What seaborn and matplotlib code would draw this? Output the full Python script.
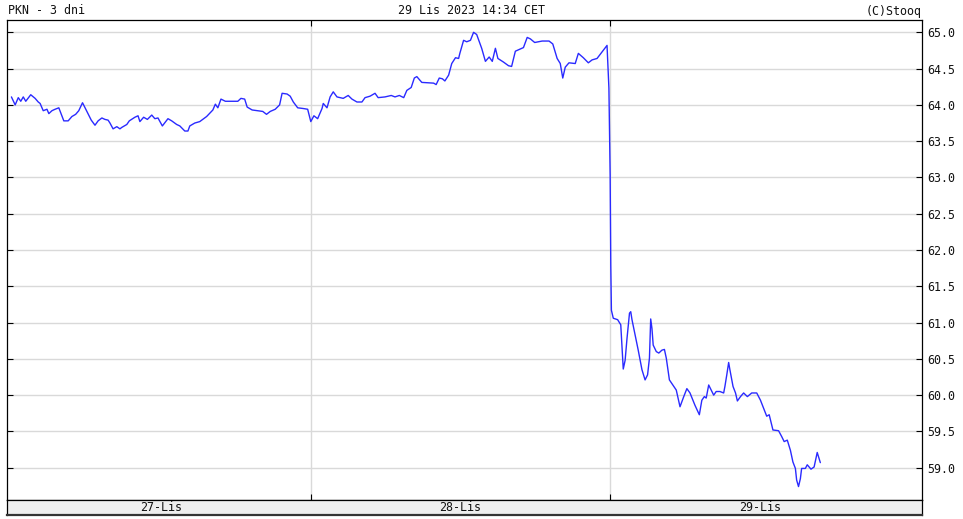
import numpy as np
import pandas as pd
import matplotlib
matplotlib.use("Agg")
import matplotlib.pyplot as plt
import seaborn as sns

# ---- data (minutes after 9:00 session open, price in PLN) ----
title_left = "PKN - 3 dni"
title_mid = "29 Lis 2023 14:34 CET"
title_right = "(C)Stooq"
day_labels = ["27-Lis", "28-Lis", "29-Lis"]
session_len = 480  # 9:00-17:00

day1_min = [0, 6, 11, 15, 19, 23, 31, 38, 43, 46,
            51, 57, 60, 65, 70, 76, 84, 91, 97, 103,
            108, 114, 121, 128, 134, 139, 145, 150, 155, 158,
            163, 169, 174, 177, 185, 189, 198, 203, 206, 212,
            218, 225, 230, 235, 242, 251, 257, 265, 270, 278,
            283, 286, 294, 302, 313, 323, 327, 331, 336, 343,
            353, 363, 368, 374, 378, 386, 394, 403, 409, 415,
            423, 430, 434, 442, 447, 452, 459, 468, 475]
day1_px = [64.11, 64.00, 64.10, 64.05, 64.11, 64.05, 64.14, 64.09, 64.04, 64.02,
           63.92, 63.94, 63.88, 63.92, 63.94, 63.96, 63.78, 63.78, 63.84, 63.87,
           63.92, 64.03, 63.91, 63.79, 63.72, 63.78, 63.82, 63.80, 63.79, 63.75,
           63.67, 63.70, 63.67, 63.69, 63.73, 63.78, 63.83, 63.85, 63.77, 63.83,
           63.80, 63.86, 63.81, 63.82, 63.71, 63.81, 63.78, 63.73, 63.71, 63.64,
           63.64, 63.71, 63.75, 63.77, 63.84, 63.93, 64.01, 63.96, 64.08, 64.05,
           64.05, 64.05, 64.09, 64.08, 63.97, 63.93, 63.92, 63.91, 63.87, 63.91,
           63.94, 64.00, 64.16, 64.15, 64.12, 64.04, 63.96, 63.95, 63.94]

day2_min = [0, 5, 11, 18, 20, 26, 31, 36, 42, 52,
            60, 66, 74, 82, 87, 95, 103, 108, 119, 129,
            135, 142, 149, 154, 161, 166, 170, 178, 197, 201,
            206, 211, 215, 221, 226, 232, 237, 239, 245, 250,
            256, 261, 266, 274, 280, 286, 291, 296, 300, 309,
            317, 322, 328, 336, 341, 347, 352, 359, 371, 376,
            382, 388, 395, 400, 404, 408, 414, 424, 429, 437,
            445, 451, 459, 467, 475, 478]
day2_px = [63.77, 63.85, 63.81, 63.95, 64.02, 63.96, 64.11, 64.18, 64.11, 64.09,
           64.13, 64.08, 64.04, 64.04, 64.10, 64.12, 64.16, 64.10, 64.11, 64.13,
           64.11, 64.13, 64.10, 64.20, 64.24, 64.37, 64.39, 64.31, 64.30, 64.28,
           64.37, 64.36, 64.33, 64.41, 64.57, 64.65, 64.64, 64.71, 64.89, 64.87,
           64.89, 65.00, 64.97, 64.78, 64.60, 64.66, 64.60, 64.78, 64.64, 64.59,
           64.54, 64.53, 64.74, 64.77, 64.79, 64.93, 64.91, 64.86, 64.88, 64.88,
           64.88, 64.84, 64.64, 64.57, 64.37, 64.52, 64.58, 64.57, 64.71, 64.65,
           64.58, 64.62, 64.64, 64.73, 64.82, 64.23]

day3_min = [0, 1, 2, 5, 12, 17, 20, 21, 24, 27,
            31, 33, 35, 40, 45, 51, 56, 60, 63, 65,
            67, 69, 74, 78, 83, 87, 90, 95, 102, 106,
            112, 118, 123, 128, 136, 143, 147, 151, 154, 158,
            162, 166, 170, 176, 182, 184, 187, 190, 192, 197,
            201, 204, 209, 214, 220, 227, 235, 241, 246, 251,
            255, 261, 270, 275, 279, 284, 289, 293, 297, 299,
            302, 305, 307, 313, 316, 322, 327, 332, 337]
day3_px = [63.03, 61.79, 61.17, 61.06, 61.04, 60.97, 60.51, 60.36, 60.48, 60.78,
           61.13, 61.15, 61.04, 60.83, 60.62, 60.35, 60.21, 60.28, 60.51, 61.05,
           60.92, 60.69, 60.60, 60.58, 60.62, 60.63, 60.51, 60.21, 60.12, 60.07,
           59.84, 59.98, 60.09, 60.03, 59.86, 59.73, 59.93, 59.98, 59.96, 60.14,
           60.07, 60.00, 60.05, 60.05, 60.03, 60.12, 60.28, 60.45, 60.35, 60.12,
           60.03, 59.92, 59.98, 60.03, 59.98, 60.03, 60.03, 59.93, 59.82, 59.71,
           59.73, 59.52, 59.51, 59.43, 59.36, 59.38, 59.24, 59.08, 58.99, 58.83,
           58.74, 58.85, 58.99, 58.99, 59.04, 58.98, 59.01, 59.21, 59.07]

y_ticks = [59.0, 59.5, 60.0, 60.5, 61.0, 61.5, 62.0, 62.5, 63.0, 63.5, 64.0, 64.5, 65.0]

# ---- build table ----
frames = []
for d, (mins, prices) in enumerate([(day1_min, day1_px), (day2_min, day2_px), (day3_min, day3_px)]):
    frames.append(pd.DataFrame({"t": np.array(mins) + d * session_len, "price": prices}))
df = pd.concat(frames, ignore_index=True)

# ---- figure ----
sns.set_style("white")
plt.rcParams["font.family"] = ["DejaVu Sans Mono"]
FS = 8.4
W, H = 963, 519
fig = plt.figure(figsize=(W / 100, H / 100), dpi=100)

x0, x1 = 7.3, 922
ytop, ybot, yband = 20, 500, 515
ax = fig.add_axes([x0 / W, 1 - ybot / H, (x1 - x0) / W, (ybot - ytop) / H])
sns.lineplot(data=df, x="t", y="price", ax=ax, color="#2a2aff", lw=1.0,
             estimator=None, sort=False, zorder=3)

xmin, xmax = -6.6, 1460
ax.set_xlim(xmin, xmax)
ax.set_ylim(58.555, 65.17)
ax.set_xlabel("")
ax.set_ylabel("")

ax.set_yticks(y_ticks)
ax.set_yticklabels([f"{v:.1f}" for v in y_ticks])
ax.yaxis.set_ticks_position("both")
ax.tick_params(axis="y", direction="in", length=4, width=0.8, color="black",
               left=True, right=True, labelleft=False, labelright=True,
               pad=4, labelsize=FS, labelcolor="#111111")
ax.set_xticks([session_len, 2 * session_len])
ax.tick_params(axis="x", direction="in", length=4, width=0.8, color="black",
               top=True, bottom=True, labelbottom=False)
ax.set_axisbelow(True)
ax.grid(True, color="#d9d9d9", lw=1.0)
for s in ax.spines.values():
    s.set_color("black")
    s.set_linewidth(0.9)

# date band
bax = fig.add_axes([x0 / W, 1 - yband / H, (x1 - x0) / W, (yband - ybot) / H])
bax.set_facecolor("#eeeeee")
bax.set_xlim(xmin, xmax)
bax.set_ylim(0, 1)
bax.set_yticks([])
bax.set_xticks([session_len, 2 * session_len])
bax.tick_params(axis="x", direction="out", length=4, width=0.8, labelbottom=False)
for s in bax.spines.values():
    s.set_color("black")
    s.set_linewidth(0.9)
bax.spines["bottom"].set_linewidth(1.6)
bax.spines["bottom"].set_color("#333333")
for i, lab in enumerate(day_labels):
    bax.text(i * session_len + session_len / 2, 0.5, lab, ha="center", va="center",
             fontsize=FS, color="#111111")

# header
fig.text(8 / W, 1 - 11 / H, title_left, ha="left", va="center", fontsize=FS, color="#111111")
fig.text(471.7 / W, 1 - 11 / H, title_mid, ha="center", va="center", fontsize=FS, color="#111111")
fig.text(922 / W, 1 - 11 / H, title_right, ha="right", va="center", fontsize=FS, color="#111111")

fig.savefig("out.png", dpi=100)
